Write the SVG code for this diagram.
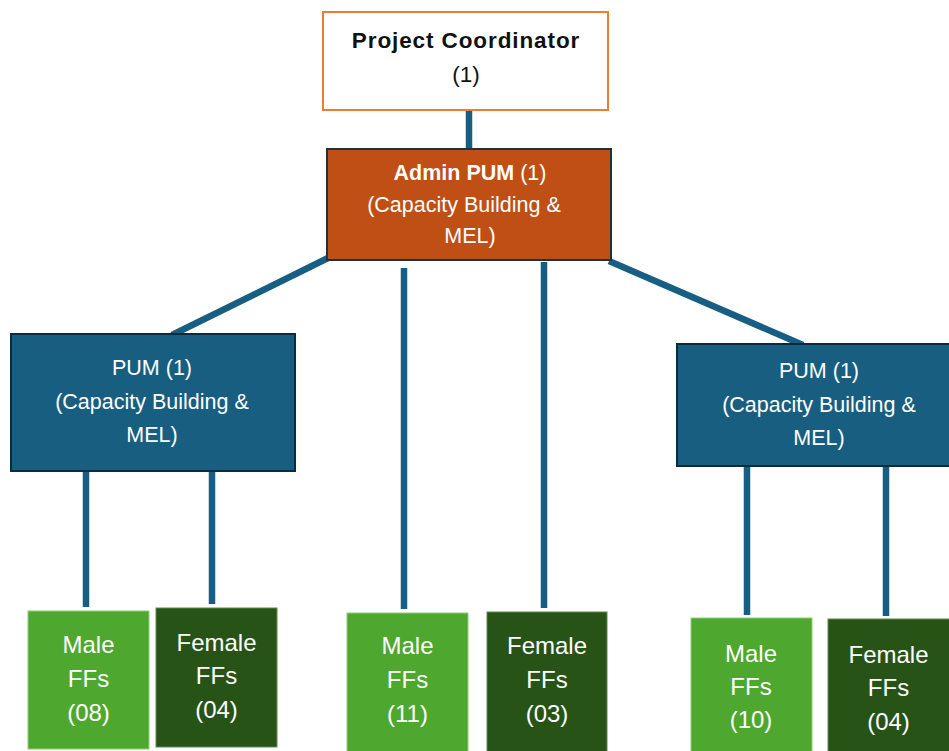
<svg xmlns="http://www.w3.org/2000/svg" width="949" height="751" viewBox="0 0 949 751">
<style>
.c{stroke:#175e82;stroke-width:6.5;fill:none}
.t{font-family:"Liberation Sans",Arial,sans-serif;text-anchor:middle;fill:#ffffff}
.tk{fill:#111111}
.b{font-size:24px}
.pum{fill:#175e80;stroke:#0d2b3a;stroke-width:2}
.male{fill:#4ea72e;stroke:#8fcf78;stroke-width:1}
.fem{fill:#275317;stroke:#5e8a4e;stroke-width:1}
</style>
<rect width="949" height="751" fill="#ffffff"/>
<g id="connectors">
<line class="c" x1="469" y1="110" x2="469" y2="150"/>
<line class="c" x1="328" y1="258" x2="172" y2="335"/>
<line class="c" x1="609" y1="261" x2="803" y2="345"/>
<line class="c" x1="404" y1="268" x2="404" y2="609"/>
<line class="c" x1="544" y1="262" x2="544" y2="608"/>
<line class="c" x1="86" y1="472" x2="86" y2="607"/>
<line class="c" x1="212" y1="472" x2="212" y2="604"/>
<line class="c" x1="747" y1="467" x2="747" y2="615"/>
<line class="c" x1="886" y1="467" x2="886" y2="616"/>
</g>
<g id="coordinator">
<rect x="323" y="12" width="285" height="98" fill="#ffffff" stroke="#ed7d31" stroke-width="2"/>
<text class="t tk" x="466" y="48" font-size="22.5" font-weight="bold" letter-spacing="0.9">Project Coordinator</text>
<text class="t tk" x="466" y="82" font-size="22.5">(1)</text>
</g>
<g id="admin">
<rect x="327" y="149" width="284" height="111" fill="#c04f15" stroke="#1d3340" stroke-width="2"/>
<text class="t" x="470" y="180" font-size="21.5"><tspan font-weight="bold">Admin PUM</tspan> (1)</text>
<text class="t" x="464" y="212" font-size="21.5">(Capacity Building &amp;</text>
<text class="t" x="470" y="243" font-size="21.5">MEL)</text>
</g>
<g id="pum-left">
<rect class="pum" x="11" y="334" width="284" height="137"/>
<text class="t" x="152" y="375" font-size="21.5">PUM (1)</text>
<text class="t" x="152" y="409" font-size="21.5">(Capacity Building &amp;</text>
<text class="t" x="152" y="442" font-size="21.5">MEL)</text>
</g>
<g id="pum-right">
<rect class="pum" x="677" y="344" width="285" height="122"/>
<text class="t" x="819" y="378" font-size="21.5">PUM (1)</text>
<text class="t" x="819" y="412" font-size="21.5">(Capacity Building &amp;</text>
<text class="t" x="819" y="445" font-size="21.5">MEL)</text>
</g>
<g id="male-1">
<rect class="male" x="28" y="611" width="121" height="138"/>
<text class="t b" x="88.5" y="653">Male</text>
<text class="t b" x="88.5" y="687">FFs</text>
<text class="t b" x="88.5" y="721">(08)</text>
</g>
<g id="female-1">
<rect class="fem" x="156" y="608" width="121" height="139"/>
<text class="t b" x="216.5" y="651">Female</text>
<text class="t b" x="216.5" y="684">FFs</text>
<text class="t b" x="216.5" y="718">(04)</text>
</g>
<g id="male-2">
<rect class="male" x="347" y="613" width="121" height="140"/>
<text class="t b" x="407.5" y="654">Male</text>
<text class="t b" x="407.5" y="688">FFs</text>
<text class="t b" x="407.5" y="722">(11)</text>
</g>
<g id="female-2">
<rect class="fem" x="487" y="612" width="120" height="141"/>
<text class="t b" x="547" y="654">Female</text>
<text class="t b" x="547" y="688">FFs</text>
<text class="t b" x="547" y="722">(03)</text>
</g>
<g id="male-3">
<rect class="male" x="691" y="618" width="121" height="135"/>
<text class="t b" x="751" y="662">Male</text>
<text class="t b" x="751" y="695">FFs</text>
<text class="t b" x="751" y="728">(10)</text>
</g>
<g id="female-3">
<rect class="fem" x="828" y="619" width="125" height="134"/>
<text class="t b" x="888.5" y="663">Female</text>
<text class="t b" x="888.5" y="696">FFs</text>
<text class="t b" x="888.5" y="730">(04)</text>
</g>
</svg>
